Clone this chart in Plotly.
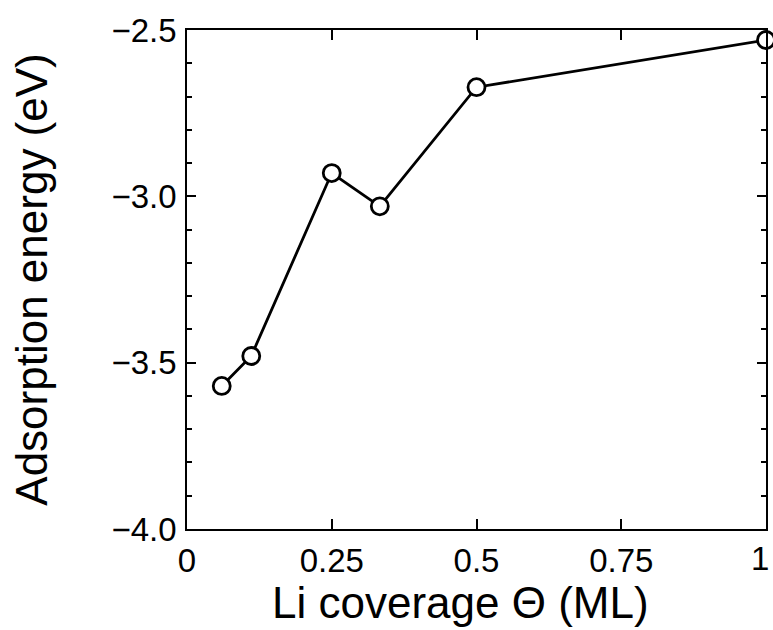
import plotly.graph_objects as go

# Li coverage (ML) and adsorption energy (eV)
coverage = [0.06, 0.111, 0.25, 0.333, 0.5, 1.0]
energy = [-3.57, -3.48, -2.93, -3.03, -2.672, -2.53]

x_ticks = [0, 0.25, 0.5, 0.75, 1]
x_tick_text = ["0", "0.25", "0.5", "0.75", "1"]
y_ticks = [-4.0, -3.5, -3.0, -2.5]
y_tick_text = ["\u22124.0", "\u22123.5", "\u22123.0", "\u22122.5"]

TICK_FONT = "Liberation Sans Narrow, Liberation Sans, Arial, sans-serif"
TITLE_FONT = "Liberation Sans, Arial, Helvetica, sans-serif"

fig = go.Figure()
fig.add_trace(go.Scatter(
    x=coverage, y=energy,
    mode="lines+markers",
    line=dict(color="black", width=2.8),
    marker=dict(symbol="circle", size=17, color="white",
                line=dict(color="black", width=2.8)),
    cliponaxis=False,
    showlegend=False,
))

axis_common = dict(
    showline=True, linecolor="black", linewidth=1.5,
    mirror="allticks", ticks="inside", tickcolor="black",
    tickwidth=1.5, showgrid=False, zeroline=False,
    ticklabeloverflow="allow", automargin=False,
    tickfont=dict(family=TICK_FONT, size=33, color="black"),
)

# the last x label sits flush with the right frame, so it is drawn
# separately and kept inside the page
fig.update_xaxes(
    range=[0, 1], tickvals=x_ticks[:-1], ticktext=x_tick_text[:-1],
    ticklen=10, ticklabelstandoff=2,
    **axis_common,
)
fig.add_annotation(
    text=x_tick_text[-1],
    xref="x", yref="paper", x=x_ticks[-1], y=0,
    xanchor="right", yanchor="top", xshift=5, yshift=-9,
    showarrow=False,
    font=dict(family=TICK_FONT, size=33, color="black"),
)

fig.update_yaxes(
    range=[-4.0, -2.5], tickvals=y_ticks, ticktext=y_tick_text,
    ticklen=9, ticklabelstandoff=2,
    minor=dict(dtick=0.1, tick0=-4.0, ticks="inside", ticklen=5,
               tickcolor="black", tickwidth=1.5, showgrid=False),
    title=dict(text="Adsorption energy (eV)", standoff=50,
               font=dict(family=TITLE_FONT, size=44, color="black")),
    **axis_common,
)

# x-axis title, sitting slightly left of the plot centre
fig.add_annotation(
    text="Li coverage \u0398 (ML)",
    xref="paper", yref="paper", x=0.472, y=0,
    xanchor="center", yanchor="top", yshift=-47,
    showarrow=False,
    font=dict(family=TITLE_FONT, size=44, color="black"),
)

fig.update_layout(
    width=773, height=630,
    margin=dict(l=187, r=7, t=30, b=101),
    paper_bgcolor="white", plot_bgcolor="white",
)

fig.write_html("out.html")
